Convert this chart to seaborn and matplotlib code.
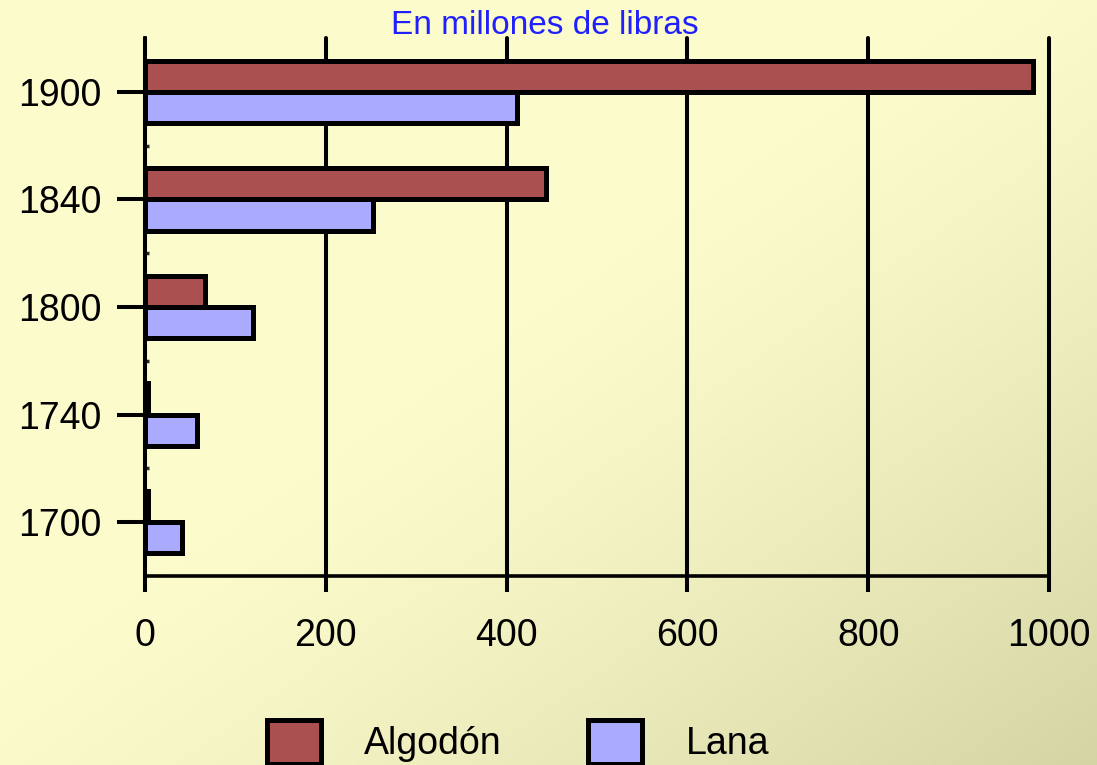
import numpy as np
import pandas as pd
import matplotlib.pyplot as plt
import seaborn as sns
from matplotlib.patches import Patch

# data
years = ["1900", "1840", "1800", "1740", "1700"]
algodon = [982, 444, 66, 3, 3]
lana = [412, 252, 120, 58, 41]
series = ["Algodón", "Lana"]
colors = ["#AA5050", "#AAAAFF"]
xticks = [0, 200, 400, 600, 800, 1000]

df = pd.DataFrame({
    "year": years * 2,
    "value": algodon + lana,
    "fibra": [series[0]] * len(years) + [series[1]] * len(years),
})

sns.set_style("white")
plt.rcParams["font.family"] = ["Liberation Sans", "DejaVu Sans"]
plt.rcParams["text.color"] = "black"

fig = plt.figure(figsize=(10.97, 7.65), dpi=100)

# background gradient (pale yellow, darker toward bottom-right)
bg = fig.add_axes([0, 0, 1, 1], zorder=-10)
H, W = 200, 300
yy, xx = np.mgrid[0:H, 0:W]
t = (xx / W + yy / H) / 2
f = np.clip((t - 0.45) / 0.55, 0, 1) ** 1.3
light = np.array([252, 251, 204]) / 255
dark = np.array([212, 212, 165]) / 255
img = light[None, None, :] * (1 - f[..., None]) + dark[None, None, :] * f[..., None]
bg.imshow(img, aspect="auto", extent=[0, 1, 0, 1], origin="upper")
bg.axis("off")

ax = fig.add_axes([145 / 1097, 1 - 576 / 765, (1049 - 145) / 1097, (576 - 38) / 765])
ax.set_facecolor("none")

sns.barplot(data=df, y="year", x="value", hue="fibra", hue_order=series,
            order=years, palette=colors, saturation=1, orient="h", width=0.58,
            edgecolor="black", linewidth=3.6, legend=False, ax=ax)

ax.set_xlim(0, 1000)
ax.set_ylim(4.5, -0.5)
ax.set_xticks(xticks)
ax.set_xlabel("")
ax.set_ylabel("")
ax.set_axisbelow(True)
ax.grid(axis="x", color="black", linewidth=2.9)
ax.grid(axis="y", visible=False)
for gl in ax.get_xgridlines():
    gl.set_clip_on(False)

for s in ["top", "right"]:
    ax.spines[s].set_visible(False)
for s in ["left", "bottom"]:
    ax.spines[s].set_color("black")
    ax.spines[s].set_linewidth(2.6)

ax.tick_params(axis="x", which="major", direction="out", length=11.5, width=2.9,
               pad=19, labelsize=27, colors="black", bottom=True)
ax.tick_params(axis="y", which="major", direction="out", length=20, width=2.9,
               pad=11, labelsize=27, colors="black", left=True)
ax.set_yticks([0.5, 1.5, 2.5, 3.5], minor=True)
ax.tick_params(axis="y", which="minor", direction="in", length=3, width=2.5, left=True)

fig.text(0.497, 1 - 26 / 765, "En millones de libras", color="#2020FF",
         fontsize=24, ha="center", va="center")

handles = [Patch(facecolor=c, edgecolor="black", linewidth=3.6) for c in colors]
fig.legend(handles, series, loc="center", bbox_to_anchor=(0.472, 1 - 742 / 765),
           ncol=2, frameon=False, fontsize=27, handlelength=1.45, handleheight=1.45,
           handletextpad=1.15, columnspacing=2.3, labelcolor="black")

fig.savefig("out.png", dpi=100)
